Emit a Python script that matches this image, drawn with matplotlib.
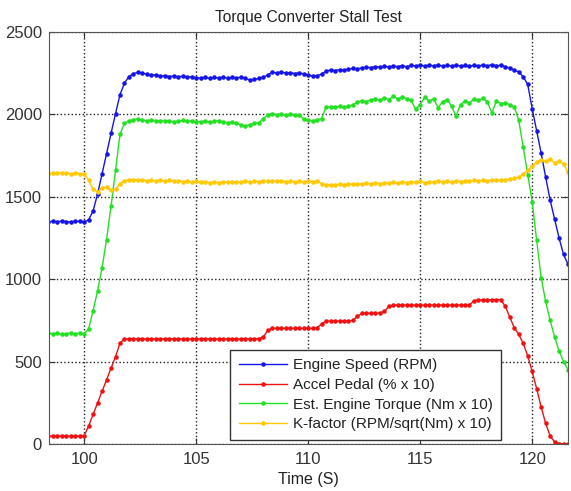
import matplotlib
matplotlib.use("Agg")
import matplotlib.pyplot as plt
import numpy as np

plt.rcParams['font.family'] = ['Liberation Sans', 'DejaVu Sans']

# sample times (s), one reading every 0.2 s
time_s = np.round(np.arange(98.4, 121.61, 0.2), 1)

engine_speed = [
    1348, 1352, 1349, 1353, 1350, 1347, 1351, 1352, 1349, 1360,
    1415, 1518, 1640, 1762, 1885, 2005, 2120, 2190, 2230, 2248,
    2255, 2250, 2244, 2238, 2241, 2233, 2236, 2230, 2234, 2228,
    2232, 2226, 2229, 2223, 2220, 2226, 2218, 2224, 2221, 2227,
    2219, 2225, 2222, 2226, 2220, 2208, 2212, 2218, 2225, 2240,
    2256, 2252, 2258, 2250, 2254, 2248, 2252, 2246, 2240, 2232,
    2235, 2245, 2262, 2270, 2266, 2272, 2268, 2275, 2279, 2276,
    2283, 2286, 2284, 2290, 2287, 2292, 2288, 2293, 2290, 2296,
    2289, 2298, 2294, 2300, 2293, 2299, 2295, 2301, 2292, 2298,
    2294, 2300, 2293, 2297, 2291, 2299, 2294, 2300, 2295, 2302,
    2296, 2298, 2290, 2282, 2268, 2258, 2228, 2182, 2035, 1900,
    1765, 1620, 1481, 1365, 1250, 1150, 1090,
]

accel_pedal = [
    48, 48, 48, 48, 48, 48, 48, 48, 50, 110,
    180, 250, 320, 390, 460, 530, 612, 638, 638, 638,
    638, 638, 638, 638, 638, 638, 638, 638, 638, 638,
    638, 638, 638, 638, 638, 638, 638, 638, 638, 638,
    638, 638, 638, 638, 638, 638, 638, 640, 650, 690,
    702, 702, 702, 702, 702, 702, 702, 702, 702, 702,
    705, 730, 746, 746, 746, 746, 746, 746, 750, 775,
    793, 793, 793, 793, 795, 805, 835, 843, 843, 843,
    843, 843, 843, 843, 843, 843, 843, 843, 843, 843,
    843, 843, 843, 843, 843, 870, 874, 875, 874, 876,
    875, 876, 835, 770, 705, 665, 610, 535, 440, 335,
    225, 125, 50, 12, 3, 0, 0,
]

engine_torque = [
    675, 668, 672, 665, 670, 674, 669, 673, 668, 700,
    810, 930, 1070, 1240, 1445, 1660, 1880, 1945, 1962, 1968,
    1972, 1965, 1960, 1966, 1958, 1963, 1957, 1962, 1955, 1960,
    1964, 1958, 1961, 1956, 1955, 1960, 1953, 1958, 1962, 1955,
    1950, 1952, 1946, 1935, 1930, 1938, 1945, 1950, 1975, 1998,
    2005, 1998, 2002, 1996, 2001, 1995, 1998, 1970, 1965, 1960,
    1968, 1975, 2045, 2048, 2042, 2050, 2044, 2049, 2060, 2075,
    2082, 2078, 2088, 2095, 2085, 2100, 2090, 2110, 2095, 2105,
    2095, 2085, 2030, 2060, 2105, 2080, 2095, 2040, 2078, 2090,
    2050, 1990, 2060, 2080, 2070, 2092, 2085, 2100, 2075, 2010,
    2080, 2065, 2072, 2058, 2045, 1965, 1800, 1635, 1470, 1235,
    1010, 865, 750, 650, 565, 500, 452,
]

k_factor = [
    1640, 1645, 1642, 1646, 1643, 1640, 1645, 1641, 1638, 1600,
    1545, 1530, 1555, 1558, 1542, 1545, 1580, 1598, 1602, 1605,
    1600, 1604, 1598, 1602, 1597, 1601, 1596, 1599, 1594, 1597,
    1592, 1595, 1590, 1593, 1587, 1591, 1585, 1589, 1586, 1590,
    1588, 1592, 1587, 1591, 1594, 1590, 1595, 1592, 1596, 1593,
    1597, 1594, 1596, 1592, 1595, 1591, 1594, 1590, 1595, 1592,
    1596, 1580, 1570, 1574, 1572, 1576, 1574, 1578, 1576, 1580,
    1577, 1582, 1579, 1584, 1580, 1586, 1582, 1588, 1584, 1590,
    1586, 1592, 1588, 1594, 1583, 1592, 1588, 1596, 1590, 1594,
    1588, 1596, 1592, 1598, 1594, 1600, 1596, 1602, 1598, 1603,
    1599, 1605, 1602, 1608, 1612, 1620, 1638, 1660, 1685, 1712,
    1725, 1718, 1728, 1705, 1715, 1700, 1650,
]

labels = ['Engine Speed (RPM)', 'Accel Pedal (% x 10)',
          'Est. Engine Torque (Nm x 10)', 'K-factor (RPM/sqrt(Nm) x 10)']
colors = ['#1414e6', '#f01010', '#22e022', '#ffc800']

fig = plt.figure(figsize=(5.71, 4.91), dpi=100)
ax = fig.add_axes([0.0858, 0.0957, 0.909, 0.8391])

for y, lab, c in zip([engine_speed, accel_pedal, engine_torque, k_factor], labels, colors):
    ax.plot(time_s, y, '.-', color=c, label=lab, lw=1.0, ms=4.5)

ax.set_xlim(98.43, 121.6)
ax.set_ylim(0, 2500)
ax.set_xticks([100, 105, 110, 115, 120])
ax.set_yticks([0, 500, 1000, 1500, 2000, 2500])
ax.grid(True, linestyle=':', color='#222222', linewidth=1.0)
ax.tick_params(direction='in', top=True, right=True, labelsize=12,
               colors='#333333', length=4)
ax.tick_params(axis='x', pad=6)
ax.tick_params(axis='y', pad=5)
for s in ax.spines.values():
    s.set_color('#555555')

ax.set_title('Torque Converter Stall Test', fontsize=11.2, color='#222222', pad=7)
ax.set_xlabel('Time (S)', fontsize=11.5, color='#222222', labelpad=3)

leg = ax.legend(loc='lower left', bbox_to_anchor=(0.349, 0.01), borderaxespad=0,
                fontsize=11, numpoints=1, handlelength=3.2, handletextpad=0.35,
                labelspacing=0.38, borderpad=0.55,
                fancybox=False, framealpha=1, edgecolor='#333333')
leg.get_frame().set_linewidth(1.0)
for t in leg.get_texts():
    t.set_color('#222222')

fig.savefig('out.png', dpi=100)
